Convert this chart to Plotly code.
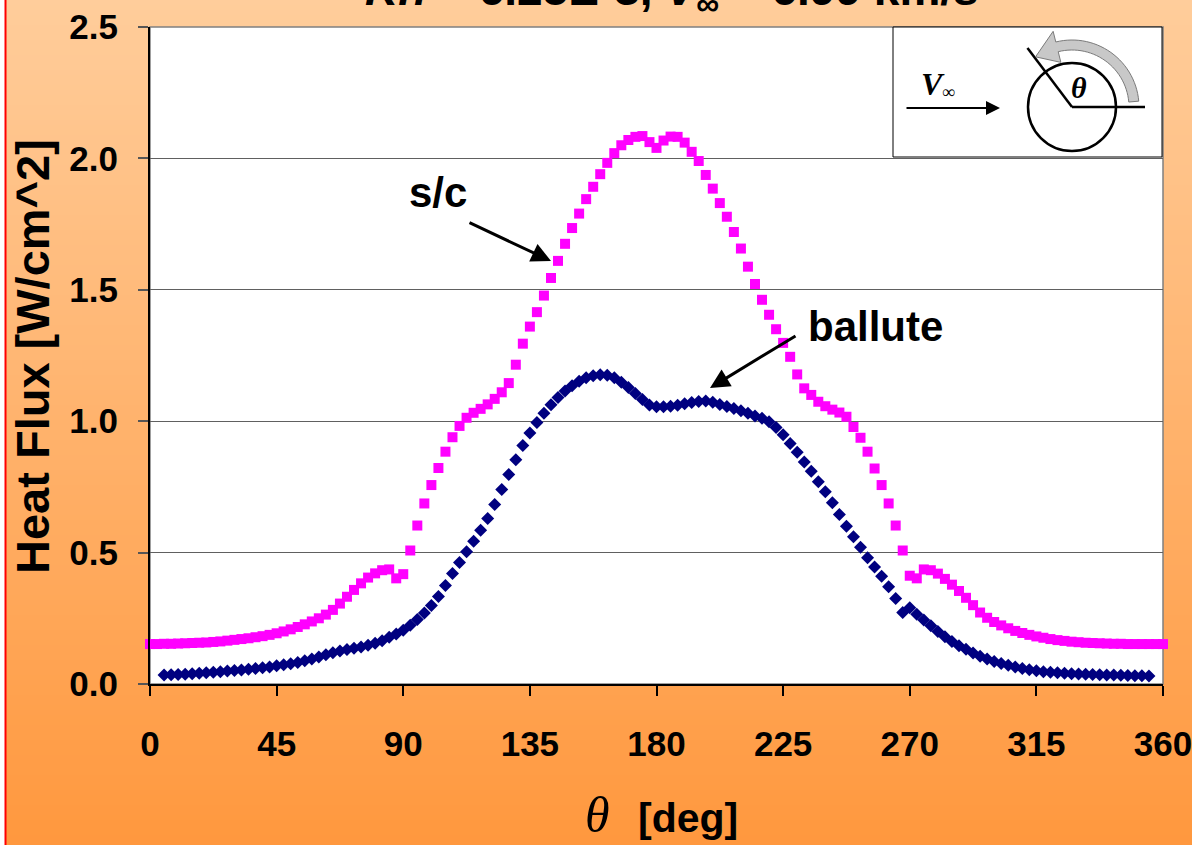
import math
import plotly.graph_objects as go

# ---------------- data ----------------
theta_sc = [
    0, 2.5, 5, 7.5, 10, 12.5, 15, 17.5, 20, 22.5,
    25, 27.5, 30, 32.5, 35, 37.5, 40, 42.5, 45, 47.5,
    50, 52.5, 55, 57.5, 60, 62.5, 65, 67.5, 70, 72.5,
    75, 77.5, 80, 82.5, 85, 87.5, 90, 92.5, 95, 97.5,
    100, 102.5, 105, 107.5, 110, 112.5, 115, 117.5, 120, 122.5,
    125, 127.5, 130, 132.5, 135, 137.5, 140, 142.5, 145, 147.5,
    150, 152.5, 155, 157.5, 160, 162.5, 165, 167.5, 170, 172.5,
    175, 177.5, 180, 182.5, 185, 187.5, 190, 192.5, 195, 197.5,
    200, 202.5, 205, 207.5, 210, 212.5, 215, 217.5, 220, 222.5,
    225, 227.5, 230, 232.5, 235, 237.5, 240, 242.5, 245, 247.5,
    250, 252.5, 255, 257.5, 260, 262.5, 265, 267.5, 270, 272.5,
    275, 277.5, 280, 282.5, 285, 287.5, 290, 292.5, 295, 297.5,
    300, 302.5, 305, 307.5, 310, 312.5, 315, 317.5, 320, 322.5,
    325, 327.5, 330, 332.5, 335, 337.5, 340, 342.5, 345, 347.5,
    350, 352.5, 355, 357.5, 360,
]
heat_sc = [
    .152, .152, .153, .153, .154, .155, .156, .157, .158, .160,
    .162, .165, .168, .171, .174, .178, .182, .187, .193, .200,
    .208, .217, .227, .238, .250, .264, .282, .306, .332, .358,
    .383, .405, .421, .433, .436, .402, .418, .508, .603, .687,
    .757, .822, .884, .939, .982, 1.013, 1.032, 1.047, 1.064, 1.085,
    1.110, 1.145, 1.215, 1.295, 1.360, 1.415, 1.478, 1.545, 1.610, 1.675,
    1.735, 1.790, 1.845, 1.892, 1.940, 1.983, 2.020, 2.050, 2.070, 2.082,
    2.085, 2.062, 2.040, 2.068, 2.083, 2.082, 2.060, 2.025, 1.990, 1.937,
    1.885, 1.830, 1.778, 1.720, 1.657, 1.588, 1.522, 1.462, 1.405, 1.350,
    1.298, 1.245, 1.178, 1.125, 1.100, 1.074, 1.057, 1.044, 1.033, 1.017,
    .978, .937, .884, .820, .757, .687, .603, .508, .412, .402,
    .436, .433, .420, .400, .378, .354, .328, .300, .272, .252,
    .236, .223, .212, .202, .194, .187, .181, .176, .171, .167,
    .164, .161, .159, .157, .156, .155, .154, .153, .153, .152,
    .152, .152, .152, .152, .152,
]

theta_ballute = [
    5, 7.5, 10, 12.5, 15, 17.5, 20, 22.5, 25, 27.5,
    30, 32.5, 35, 37.5, 40, 42.5, 45, 47.5, 50, 52.5,
    55, 57.5, 60, 62.5, 65, 67.5, 70, 72.5, 75, 77.5,
    80, 82.5, 85, 87.5, 90, 92.5, 95, 97.5, 100, 102.5,
    105, 107.5, 110, 112.5, 115, 117.5, 120, 122.5, 125, 127.5,
    130, 132.5, 135, 137.5, 140, 142.5, 145, 147.5, 150, 152.5,
    155, 157.5, 160, 162.5, 165, 167.5, 170, 172.5, 175, 177.5,
    180, 182.5, 185, 187.5, 190, 192.5, 195, 197.5, 200, 202.5,
    205, 207.5, 210, 212.5, 215, 217.5, 220, 222.5, 225, 227.5,
    230, 232.5, 235, 237.5, 240, 242.5, 245, 247.5, 250, 252.5,
    255, 257.5, 260, 262.5, 265, 267.5, 270, 272.5, 275, 277.5,
    280, 282.5, 285, 287.5, 290, 292.5, 295, 297.5, 300, 302.5,
    305, 307.5, 310, 312.5, 315, 317.5, 320, 322.5, 325, 327.5,
    330, 332.5, 335, 337.5, 340, 342.5, 345, 347.5, 350, 352.5,
    355,
]
heat_ballute = [
    .034, .035, .036, .037, .039, .041, .043, .045, .047, .049,
    .051, .053, .056, .059, .062, .065, .069, .073, .077, .082,
    .088, .095, .103, .111, .119, .126, .131, .136, .141, .147,
    .155, .165, .178, .190, .205, .224, .245, .270, .299, .333,
    .375, .420, .462, .503, .543, .585, .630, .683, .740, .797,
    .853, .908, .955, .995, 1.030, 1.063, 1.090, 1.115, 1.135, 1.152,
    1.165, 1.173, 1.177, 1.175, 1.165, 1.148, 1.128, 1.105, 1.083, 1.062,
    1.055, 1.055, 1.057, 1.061, 1.066, 1.071, 1.075, 1.077, 1.072, 1.064,
    1.056, 1.048, 1.040, 1.030, 1.020, 1.011, .998, .976, .948, .915,
    .882, .845, .810, .770, .732, .690, .645, .600, .560, .520,
    .480, .445, .410, .370, .325, .272, .290, .265, .244, .222,
    .200, .180, .162, .146, .132, .118, .106, .095, .086, .078,
    .071, .065, .059, .054, .050, .047, .045, .043, .041, .039,
    .038, .037, .036, .035, .034, .034, .033, .032, .031, .031,
    .030,
]

x_ticks = [0, 45, 90, 135, 180, 225, 270, 315, 360]
y_ticks = [0.0, 0.5, 1.0, 1.5, 2.0, 2.5]
y_ticktext = ["0.0", "0.5", "1.0", "1.5", "2.0", "2.5"]

title_text = "<i>Kn</i> = 6.25E-3, <i>V</i><sub>∞</sub> = 6.99 km/s"

# ---------------- layout geometry (pixels) ----------------
FW, FH = 1192, 845
L, R, T, B = 150, 1163, 27, 684
W, H = R - L, B - T


def px(x):
    return (x - L) / W


def py(y):
    return (B - y) / H


SANS = "Liberation Sans, Arial, sans-serif"
SERIF = "Liberation Serif, Times New Roman, serif"

shapes = []

# gradient page background
top_c = (255, 205, 155)
bot_c = (255, 152, 62)
step = 5
n = FH // step + 1
for i in range(n):
    t = min(1.0, (i * step + step / 2) / FH)
    c = tuple(round(top_c[k] + (bot_c[k] - top_c[k]) * t) for k in range(3))
    shapes.append(dict(type="rect", xref="paper", yref="paper",
                       x0=px(0), x1=px(FW), y0=py(i * step + step + 0.6), y1=py(i * step),
                       fillcolor="rgb(%d,%d,%d)" % c, line=dict(width=0), layer="below"))
# white strip + red border at left
shapes.append(dict(type="rect", xref="paper", yref="paper", x0=px(0), x1=px(5), y0=py(FH), y1=py(0),
                   fillcolor="white", line=dict(width=0), layer="below"))
shapes.append(dict(type="line", xref="paper", yref="paper", x0=px(5.5), x1=px(5.5), y0=py(FH), y1=py(0),
                   line=dict(color="#FF0000", width=2), layer="below"))
# plot area
shapes.append(dict(type="rect", xref="paper", yref="paper", x0=0, x1=1, y0=0, y1=1,
                   fillcolor="white", line=dict(color="#808080", width=1.5), layer="below"))

# ---------------- inset diagram ----------------
shapes.append(dict(type="rect", xref="paper", yref="paper", x0=px(893), x1=px(1162), y0=py(157), y1=py(27),
                   fillcolor="white", line=dict(color="black", width=1), layer="above"))
cx, cy, rad = 1072, 107, 44
shapes.append(dict(type="circle", xref="paper", yref="paper", x0=px(cx - rad), x1=px(cx + rad),
                   y0=py(cy + rad), y1=py(cy - rad), line=dict(color="black", width=2.5)))
shapes.append(dict(type="line", xref="paper", yref="paper", x0=px(cx), x1=px(1145), y0=py(cy), y1=py(cy),
                   line=dict(color="black", width=2.5)))
ang = math.radians(127)
shapes.append(dict(type="line", xref="paper", yref="paper", x0=px(cx), y0=py(cy),
                   x1=px(cx + 74 * math.cos(ang)), y1=py(cy - 74 * math.sin(ang)),
                   line=dict(color="black", width=2.5)))


def pt(r, a_deg):
    a = math.radians(a_deg)
    return px(cx + r * math.cos(a)), py(cy - r * math.sin(a))


r_in, r_out = 57, 67
a0, a1 = 5, 104
pts = []
for k in range(31):
    a = a0 + (a1 - a0) * k / 30
    pts.append(pt(r_out, a))
pts.append(pt(r_out + 11, a1))
pts.append(pt((r_in + r_out) / 2, a1 + 22))
pts.append(pt(r_in - 11, a1))
for k in range(31):
    a = a1 - (a1 - a0) * k / 30
    pts.append(pt(r_in, a))
path = "M " + " L ".join("%.5f,%.5f" % p for p in pts) + " Z"
shapes.append(dict(type="path", xref="paper", yref="paper", path=path,
                   fillcolor="#C8C8C8", line=dict(color="#7a7a7a", width=1)))

# ---------------- figure ----------------
fig = go.Figure()
fig.add_trace(go.Scatter(x=theta_sc, y=heat_sc, mode="markers", name="s/c",
                         marker=dict(symbol="square", size=10, color="#FF00FF"),
                         cliponaxis=False))
fig.add_trace(go.Scatter(x=theta_ballute, y=heat_ballute, mode="markers", name="ballute",
                         marker=dict(symbol="diamond", size=10, color="#000080"),
                         cliponaxis=False))

annotations = [
    dict(text=title_text, x=px(672), y=py(-8), xref="paper", yref="paper", showarrow=False,
         xanchor="center", yanchor="middle", font=dict(family=SANS, size=46, color="black", weight="bold")),
    dict(text="Heat Flux [W/cm^2]", x=px(32), y=py(357), xref="paper", yref="paper", showarrow=False,
         textangle=-90, xanchor="center", yanchor="middle",
         font=dict(family=SANS, size=47, color="black", weight="bold")),
    dict(text="<i>θ</i>", x=px(597), y=py(815), xref="paper", yref="paper", showarrow=False,
         xanchor="center", yanchor="middle", font=dict(family=SERIF, size=50, color="black")),
    dict(text="[deg]", x=px(688), y=py(818), xref="paper", yref="paper", showarrow=False,
         xanchor="center", yanchor="middle", font=dict(family=SANS, size=41, color="black", weight="bold")),
    dict(text="s/c", x=px(438), y=py(192), xref="paper", yref="paper", showarrow=False,
         xanchor="center", yanchor="middle", font=dict(family=SANS, size=42, color="black", weight="bold")),
    dict(text="ballute", x=px(875), y=py(326), xref="paper", yref="paper", showarrow=False,
         xanchor="center", yanchor="middle", font=dict(family=SANS, size=42, color="black", weight="bold")),
    dict(text="", x=px(551), y=py(261), xref="paper", yref="paper", showarrow=True,
         ax=468 - 551, ay=222 - 261, arrowhead=2, arrowsize=1.3, arrowwidth=3, arrowcolor="black", standoff=0),
    dict(text="", x=px(710), y=py(388), xref="paper", yref="paper", showarrow=True,
         ax=797 - 710, ay=335 - 388, arrowhead=2, arrowsize=1.3, arrowwidth=3, arrowcolor="black", standoff=0),
    # inset texts/arrow
    dict(text="", x=px(1000), y=py(108), xref="paper", yref="paper", showarrow=True,
         ax=-95, ay=0, arrowhead=2, arrowsize=1.4, arrowwidth=2, arrowcolor="black", standoff=0),
    dict(text="<b><i>V</i></b>", x=px(933), y=py(84), xref="paper", yref="paper", showarrow=False,
         xanchor="center", yanchor="middle", font=dict(family=SERIF, size=32, color="black")),
    dict(text="∞", x=px(948), y=py(92), xref="paper", yref="paper", showarrow=False,
         xanchor="center", yanchor="middle", font=dict(family=SERIF, size=18, color="black")),
    dict(text="<b><i>θ</i></b>", x=px(1079), y=py(87), xref="paper", yref="paper", showarrow=False,
         xanchor="center", yanchor="middle", font=dict(family=SERIF, size=30, color="black")),
]

fig.update_layout(
    width=FW, height=FH, autosize=False,
    margin=dict(l=L, r=FW - R, t=T, b=FH - B, pad=0, autoexpand=False),
    paper_bgcolor="rgba(0,0,0,0)", plot_bgcolor="rgba(0,0,0,0)",
    showlegend=False,
    shapes=shapes,
    annotations=annotations,
    xaxis=dict(range=[0, 360], tickvals=x_ticks, ticks="outside", ticklen=10, tickwidth=2,
               tickcolor="black", showline=True, linecolor="black", linewidth=2, automargin=False,
               showgrid=False, zeroline=False, ticklabelstandoff=18, ticklabeloverflow="allow",
               tickfont=dict(family=SANS, size=35, color="black", weight="bold")),
    yaxis=dict(range=[0, 2.5], tickvals=y_ticks, ticktext=y_ticktext, ticks="outside", ticklen=10,
               tickwidth=1.5, tickcolor="#555555", showline=True, linecolor="black", linewidth=2,
               automargin=False,
               showgrid=True, gridcolor="#606060", gridwidth=1, zeroline=False, ticklabelstandoff=13,
               ticklabeloverflow="allow",
               tickfont=dict(family=SANS, size=35, color="black", weight="bold")),
)

fig.write_html("out.html", config={"displayModeBar": False},
               post_script="document.body.style.margin='0px';document.body.style.overflow='hidden';")
